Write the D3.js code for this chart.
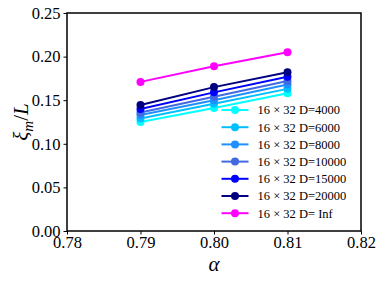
<!DOCTYPE html>
<html>
<head>
<meta charset="utf-8">
<script src="https://cdn.jsdelivr.net/npm/d3@7"></script>
<style>
  body { margin: 0; background: #fff; }
  svg text { font-family: "Liberation Serif", "Times New Roman", serif; fill: #000; }
</style>
</head>
<body>
<div id="chart"></div>
<script>
const alphas = [0.79, 0.80, 0.81];
const labels = ["D=4000", "D=6000", "D=8000", "D=10000", "D=15000", "D=20000", "D= Inf"];
const colors = ["#00ffff", "#00bfff", "#1e90ff", "#4169e1", "#0000ff", "#000080", "#ff00ff"];
const d4000 = [0.125, 0.141, 0.158];
const d6000 = [0.129, 0.146, 0.163];
const d8000 = [0.133, 0.150, 0.168];
const d10000 = [0.136, 0.154, 0.172];
const d15000 = [0.140, 0.159, 0.177];
const d20000 = [0.1445, 0.165, 0.182];
const dInf = [0.171, 0.189, 0.205];
const xTicks = [0.78, 0.79, 0.80, 0.81, 0.82];
const yTicks = [0.00, 0.05, 0.10, 0.15, 0.20, 0.25];

const seriesValues = [d4000, d6000, d8000, d10000, d15000, d20000, dInf];

drawChart();

function drawChart() {
  const width = 382;
  const height = 281;
  const margin = { left: 67, top: 13, right: 21, bottom: 50 };
  const innerWidth = width - margin.left - margin.right;
  const innerHeight = height - margin.top - margin.bottom;

  const svg = d3.select("#chart").append("svg")
    .attr("width", width)
    .attr("height", height);
  const g = svg.append("g")
    .attr("transform", `translate(${margin.left},${margin.top})`);

  const x = d3.scaleLinear().domain([0.78, 0.82]).range([0, innerWidth]);
  const y = d3.scaleLinear().domain([0, 0.25]).range([innerHeight, 0]);

  // axes
  const xG = g.append("g")
    .attr("transform", `translate(0,${innerHeight})`)
    .call(d3.axisBottom(x).tickValues(xTicks).tickFormat(d3.format(".2f")).tickSize(3.5).tickPadding(2));
  const yG = g.append("g")
    .call(d3.axisLeft(y).tickValues(yTicks).tickFormat(d3.format(".2f")).tickSize(3.5).tickPadding(3));
  [xG, yG].forEach((a) => {
    a.select(".domain").remove();
    a.selectAll("line").attr("stroke", "#000").attr("stroke-width", 1);
    a.selectAll("text")
      .style("font-family", "Liberation Serif, serif")
      .style("font-size", "16.5px");
  });

  // lines
  const line = d3.line().x((d, i) => x(alphas[i])).y((d) => y(d));
  seriesValues.forEach((vals, k) => {
    g.append("path")
      .datum(vals)
      .attr("d", line)
      .attr("fill", "none")
      .attr("stroke", colors[k])
      .attr("stroke-width", 2);
    g.selectAll(".pt" + k)
      .data(vals)
      .join("circle")
      .attr("cx", (d, i) => x(alphas[i]))
      .attr("cy", (d) => y(d))
      .attr("r", 4)
      .attr("fill", colors[k]);
  });

  // frame
  g.append("rect")
    .attr("width", innerWidth)
    .attr("height", innerHeight)
    .attr("fill", "none")
    .attr("stroke", "#000")
    .attr("stroke-width", 1.5);

  // legend
  const leg = g.append("g").attr("transform", `translate(${221.5 - margin.left},${110 - margin.top})`);
  labels.forEach((lab, k) => {
    const row = leg.append("g").attr("transform", `translate(0,${k * 17.2})`);
    row.append("line")
      .attr("x1", 0).attr("x2", 27)
      .attr("stroke", colors[k]).attr("stroke-width", 2);
    row.append("circle")
      .attr("cx", 13.5).attr("r", 4).attr("fill", colors[k]);
    const t = row.append("text")
      .attr("x", 36)
      .attr("dy", "0.35em")
      .style("font-size", "12.5px");
    t.append("tspan").text("16 × 32 " + lab);
  });

  // axis labels
  svg.append("text")
    .attr("x", margin.left + innerWidth / 2)
    .attr("y", 271)
    .attr("text-anchor", "middle")
    .style("font-size", "21px")
    .style("font-style", "italic")
    .text("α");

  const yl = svg.append("text")
    .attr("transform", `translate(28,${margin.top + innerHeight / 2}) rotate(-90)`)
    .attr("text-anchor", "middle")
    .style("font-size", "21px");
  yl.append("tspan").style("font-style", "italic").text("ξ");
  yl.append("tspan").style("font-style", "italic").style("font-size", "15px").attr("dy", 5).text("m");
  yl.append("tspan").attr("dy", -5).text("/");
  yl.append("tspan").style("font-style", "italic").text("L");
}
</script>
</body>
</html>
